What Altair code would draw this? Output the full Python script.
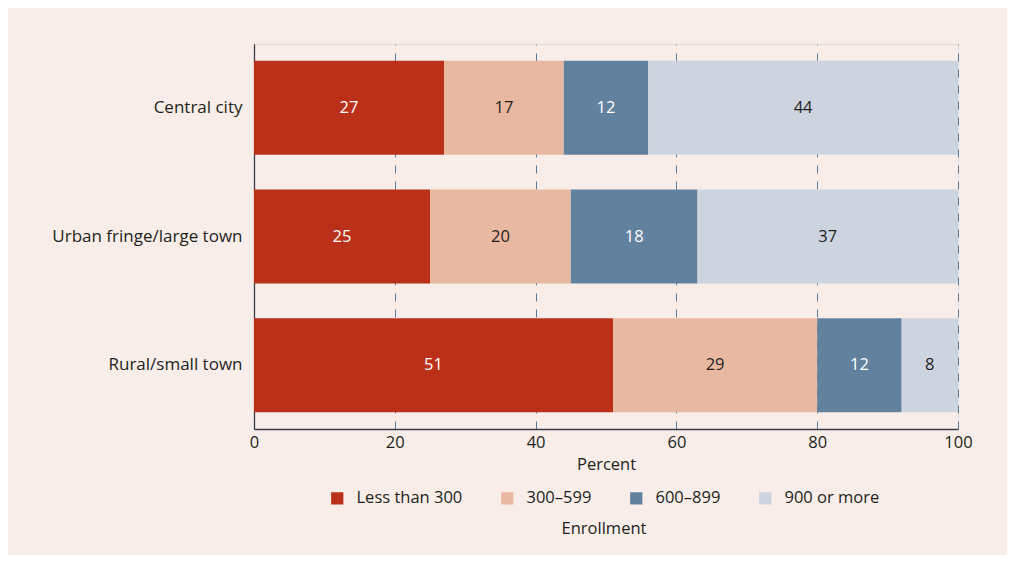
import altair as alt
import pandas as pd

categories = ["Central city", "Urban fringe/large town", "Rural/small town"]
groups = ["Less than 300", "300–599", "600–899", "900 or more"]
central_city = [27, 17, 12, 44]
urban_fringe = [25, 20, 18, 37]
rural_small = [51, 29, 12, 8]
colors = ["#bb3019", "#e9b8a1", "#62819e", "#cdd4e0"]
text_colors = ["#ffffff", "#231f20", "#ffffff", "#231f20"]

rows = []
for cat, vals in zip(categories, [central_city, urban_fringe, rural_small]):
    start = 0
    for i, (g, v) in enumerate(zip(groups, vals)):
        rows.append({"category": cat, "group": g, "value": v, "order": i,
                     "start": start, "end": start + v, "mid": start + v / 2,
                     "tcolor": text_colors[i]})
        start += v
df = pd.DataFrame(rows)

y_enc = alt.Y("category:N", sort=categories, title=None,
              scale=alt.Scale(paddingInner=0.271, paddingOuter=0.13),
              axis=alt.Axis(domainColor="#3b3a48", domainWidth=1.3, ticks=False,
                            labelFontSize=17, labelColor="#231f20", labelPadding=12,
                            labelLimit=400, grid=False))

x_enc = alt.X("start:Q", title="Percent",
              scale=alt.Scale(domain=[0, 100], nice=False),
              axis=alt.Axis(values=[0, 20, 40, 60, 80, 100], grid=True,
                            gridDash=[8, 8], gridColor="#5b7d9b", gridWidth=1,
                            domainColor="#3b3a48", domainWidth=1.3, ticks=False,
                            labelFontSize=16.5, labelColor="#231f20", labelPadding=5,
                            labelFlush=False,
                            titleFontSize=16.5, titleFontWeight="normal",
                            titleColor="#231f20", titlePadding=6))

bars = alt.Chart(df).mark_bar().encode(
    x=x_enc,
    x2="end:Q",
    y=y_enc,
    color=alt.Color("group:N", sort=groups,
                    scale=alt.Scale(domain=groups, range=colors),
                    legend=alt.Legend(title="Enrollment", orient="none",
                                      legendX=75, legendY=446,
                                      direction="horizontal",
                                      titleOrient="bottom", titleAnchor="middle",
                                      symbolType="square", symbolSize=150,
                                      symbolStrokeWidth=0, symbolOpacity=1,
                                      labelFontSize=16.5, labelColor="#231f20",
                                      labelOffset=11, columnPadding=36,
                                      titleFontSize=16.5, titleFontWeight="normal",
                                      titleColor="#231f20", titlePadding=14,
                                      padding=0)),
    order=alt.Order("order:Q"),
)

labels = alt.Chart(df).mark_text(fontSize=16.5, baseline="middle", align="center").encode(
    x=alt.X("mid:Q"),
    y=alt.Y("category:N", sort=categories),
    text=alt.Text("value:Q"),
    color=alt.Color("tcolor:N", scale=None),
)

chart = alt.layer(bars, labels).properties(
    width=704, height=385,
    autosize=alt.AutoSizeParams(type="none"),
    padding={"left": 246, "top": 36, "right": 49, "bottom": 126},
    background="#f8ede8",
).configure_view(stroke=None).configure(font="Open Sans")

chart.save("out.html", embed_options={"renderer": "svg", "actions": False})
